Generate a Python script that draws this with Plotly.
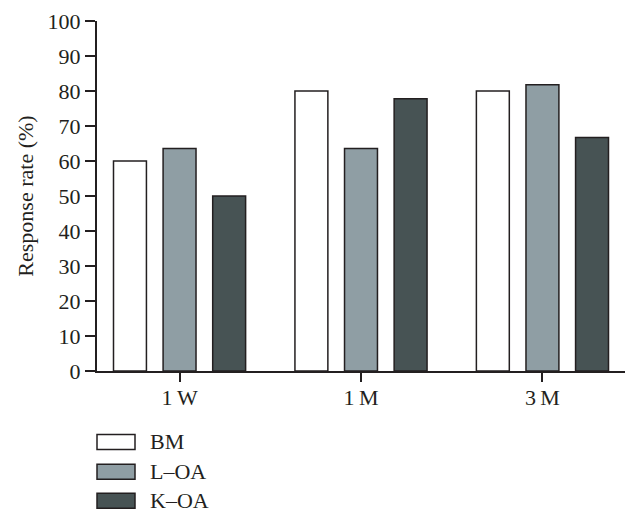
import plotly.graph_objects as go

categories = ["1\u2009W", "1\u2009M", "3\u2009M"]
series_names = ["BM", "L–OA", "K–OA"]
bm_values = [60, 80, 80]
loa_values = [63.6, 63.6, 81.8]
koa_values = [50, 77.8, 66.7]
series_colors = ["#ffffff", "#8f9ea4", "#475354"]
y_ticks = [0, 10, 20, 30, 40, 50, 60, 70, 80, 90, 100]

FONT = "Liberation Serif, Times New Roman, serif"
INK = "#231f20"
FS = 22

fig = go.Figure()
for name, vals, col in zip(series_names, [bm_values, loa_values, koa_values], series_colors):
    fig.add_trace(go.Bar(
        x=categories, y=vals, name=name,
        marker=dict(color=col, line=dict(color=INK, width=1.5)),
        showlegend=False,
    ))

# page body has an 8px default margin; compensate so the plot lands where the reference has it
OFF = 8
W, H = 640, 523
L, T = 97 - OFF, 20.5 - OFF
pw, ph = 528, 350.5
R = W - L - pw
B = H - T - ph

# custom legend (wide swatches), below plot; row centres in page pixels
row_y = [442, 472, 501]
for name, col, yc in zip(series_names, series_colors, row_y):
    yc_f = yc - OFF
    y0 = (H - B - (yc_f + 7.5)) / ph
    y1 = (H - B - (yc_f - 7.5)) / ph
    fig.add_shape(type="rect", xref="paper", yref="paper",
                  x0=0, x1=38 / pw, y0=y0, y1=y1,
                  fillcolor=col, line=dict(color=INK, width=1.5))
    fig.add_annotation(xref="paper", yref="paper", x=51 / pw, y=(H - B - yc_f) / ph,
                       text=name, showarrow=False, xanchor="left", yanchor="middle",
                       font=dict(family=FONT, size=FS, color=INK))

fig.update_layout(
    width=W, height=H,
    margin=dict(l=L, r=R, t=T, b=B, pad=0),
    paper_bgcolor="white", plot_bgcolor="white",
    barmode="group", bargap=0.18, bargroupgap=0.336,
    font=dict(family=FONT, size=FS, color=INK),
    xaxis=dict(
        range=[-0.455, 2.455], showline=True, linecolor=INK, linewidth=2,
        ticks="outside", ticklen=9, tickwidth=2, tickcolor=INK,
        showgrid=False, zeroline=False, automargin=False,
        ticklabelstandoff=-3,
        tickfont=dict(family=FONT, size=FS, color=INK),
    ),
    yaxis=dict(
        range=[0, 100], tickvals=y_ticks, showline=True, linecolor=INK, linewidth=2,
        ticks="outside", ticklen=10, tickwidth=2, tickcolor=INK,
        showgrid=False, zeroline=False, automargin=False,
        tickfont=dict(family=FONT, size=FS, color=INK),
        title=dict(text="Response rate (%)", font=dict(family=FONT, size=FS, color=INK), standoff=8),
    ),
)

fig.write_html("out.html")
